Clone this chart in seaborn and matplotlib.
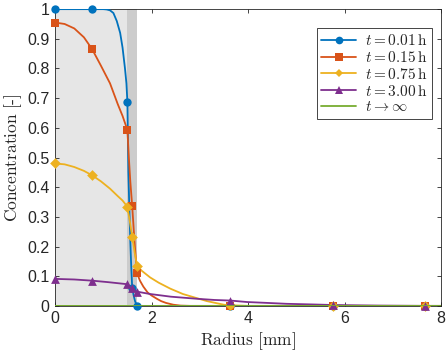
import numpy as np
import pandas as pd
import matplotlib
matplotlib.use("Agg")
import matplotlib.pyplot as plt
import seaborn as sns
from matplotlib.lines import Line2D

# Curves (radius in mm, concentration)
r_blue = [0, 0.77, 1.0, 1.07, 1.14, 1.21, 1.28, 1.35, 1.40, 1.45, 1.48, 1.5, 1.51, 1.52,
          1.54, 1.56, 1.58, 1.6, 1.63, 1.66, 1.7, 3.63, 5.75, 7.66, 8.0]
c_blue = [1.0, 1.0, 1.0, 0.999, 0.996, 0.987, 0.96, 0.92, 0.87, 0.80, 0.75, 0.687, 0.57, 0.45,
          0.33, 0.22, 0.13, 0.06, 0.035, 0.015, 0.0, 0.0, 0.0, 0.0, 0.0]

r_orange = [0, 0.2, 0.4, 0.6, 0.77, 0.95, 1.14, 1.3, 1.4, 1.5, 1.53, 1.56, 1.6, 1.63, 1.66,
            1.7, 1.76, 1.83, 1.92, 2.0, 2.11, 2.2, 2.3, 2.45, 2.6, 2.8, 3.63, 5.75, 7.66, 8.0]
c_orange = [0.955, 0.95, 0.935, 0.905, 0.865, 0.81, 0.75, 0.68, 0.64, 0.593, 0.5, 0.42, 0.335,
            0.26, 0.19, 0.11, 0.085, 0.065, 0.045, 0.035, 0.024, 0.016, 0.01, 0.004, 0.001,
            0.0, 0.0, 0.0, 0.0, 0.0]

r_yellow = [0, 0.2, 0.4, 0.6, 0.77, 0.95, 1.14, 1.3, 1.4, 1.5, 1.55, 1.6, 1.65, 1.7, 1.8,
            1.97, 2.15, 2.39, 2.65, 2.94, 3.15, 3.35, 3.5, 3.63, 4.0, 5.75, 7.66, 8.0]
c_yellow = [0.48, 0.477, 0.468, 0.455, 0.44, 0.42, 0.395, 0.37, 0.355, 0.334, 0.285, 0.233,
            0.18, 0.135, 0.118, 0.096, 0.078, 0.058, 0.04, 0.026, 0.016, 0.009, 0.004, 0.002,
            0.0, 0.0, 0.0, 0.0]

r_purple = [0, 0.4, 0.77, 1.1, 1.5, 1.6, 1.7, 1.97, 2.4, 2.94, 3.3, 3.63, 3.98, 4.4, 4.8,
            5.3, 5.75, 6.2, 6.7, 7.66, 8.0]
c_purple = [0.091, 0.089, 0.085, 0.08, 0.073, 0.06, 0.048, 0.04, 0.031, 0.024, 0.02, 0.018,
            0.013, 0.01, 0.007, 0.005, 0.003, 0.002, 0.001, 0.0, 0.0]

r_inf = [0, 8.0]
c_inf = [0.0, 0.0]

# Marker positions (shared radii)
r_marks = [0, 0.77, 1.5, 1.6, 1.7, 3.63, 5.75, 7.66]
m_blue = [1.0, 1.0, 0.687, 0.06, 0.0, 0.0, 0.0, 0.0]
m_orange = [0.955, 0.865, 0.593, 0.335, 0.11, 0.0, 0.0, 0.0]
m_yellow = [0.48, 0.44, 0.334, 0.233, 0.135, 0.002, 0.0, 0.0]
m_purple = [0.091, 0.085, 0.073, 0.06, 0.048, 0.018, 0.003, 0.0]

labels = [r"$t = 0.01\,\mathrm{h}$", r"$t = 0.15\,\mathrm{h}$",
          r"$t = 0.75\,\mathrm{h}$", r"$t = 3.00\,\mathrm{h}$",
          r"$t \rightarrow \infty$"]
colors = ["#0072BD", "#D95319", "#EDB120", "#7E2F8E", "#77AC30"]
markers = ["o", "s", "D", "^", None]

sns.set_style("ticks")
plt.rcParams["font.family"] = ["Liberation Sans", "DejaVu Sans"]
plt.rcParams["mathtext.fontset"] = "cm"

fig = plt.figure(figsize=(4.47, 3.52), dpi=100)
ax = fig.add_axes([0.123, 0.131, 0.864, 0.843])

# shaded regions
ax.axvspan(0, 1.5, color="#E6E6E6", lw=0, zorder=0)
ax.axvspan(1.5, 1.7, color="#CCCCCC", lw=0, zorder=0)

curves = [(r_blue, c_blue), (r_orange, c_orange), (r_yellow, c_yellow),
          (r_purple, c_purple), (r_inf, c_inf)]
marks = [m_blue, m_orange, m_yellow, m_purple, None]
msizes = [36, 30, 30, 40, 0]

for i, (rr, cc) in enumerate(curves):
    sns.lineplot(x=rr, y=cc, color=colors[i], lw=1.3, ax=ax, zorder=3, sort=False)

for i, mm in enumerate(marks):
    if mm is None:
        continue
    sns.scatterplot(x=r_marks, y=mm, color=colors[i], marker=markers[i], s=msizes[i],
                    linewidth=0, ax=ax, zorder=4, clip_on=False)

# green on top at zero
sns.lineplot(x=r_inf, y=c_inf, color=colors[4], lw=1.3, ax=ax, zorder=5)

ax.set_xlim(0, 8)
ax.set_ylim(0, 1)
ax.set_xticks([0, 2, 4, 6, 8])
ax.set_yticks(np.arange(0, 1.01, 0.1))
ax.set_yticklabels(["0", "0.1", "0.2", "0.3", "0.4", "0.5", "0.6", "0.7", "0.8", "0.9", "1"])
ax.tick_params(direction="in", length=3, width=0.6, labelsize=11.5, top=True, right=True,
               color="#262626", labelcolor="#262626", pad=4)
for s in ax.spines.values():
    s.set_linewidth(0.6)
    s.set_color("#262626")

ax.set_xlabel(r"$\mathrm{Radius\ [mm]}$", fontsize=12.5, labelpad=3)
ax.set_ylabel(r"$\mathrm{Concentration\ [\text{-}]}$", fontsize=12.5, labelpad=2)

handles = []
for i in range(5):
    handles.append(Line2D([0], [0], color=colors[i], lw=1.3, marker=markers[i],
                          markersize=5.5 if markers[i] != "D" else 4.5, markeredgewidth=0))
leg = ax.legend(handles, labels, loc="upper right", bbox_to_anchor=(0.977, 0.935),
                fontsize=11, frameon=True, fancybox=False, framealpha=1,
                edgecolor="#262626", handlelength=2.3, handletextpad=0.6,
                borderpad=0.3, labelspacing=0.12, borderaxespad=0.0)
leg.get_frame().set_linewidth(0.6)

fig.savefig("out.png", dpi=100)
